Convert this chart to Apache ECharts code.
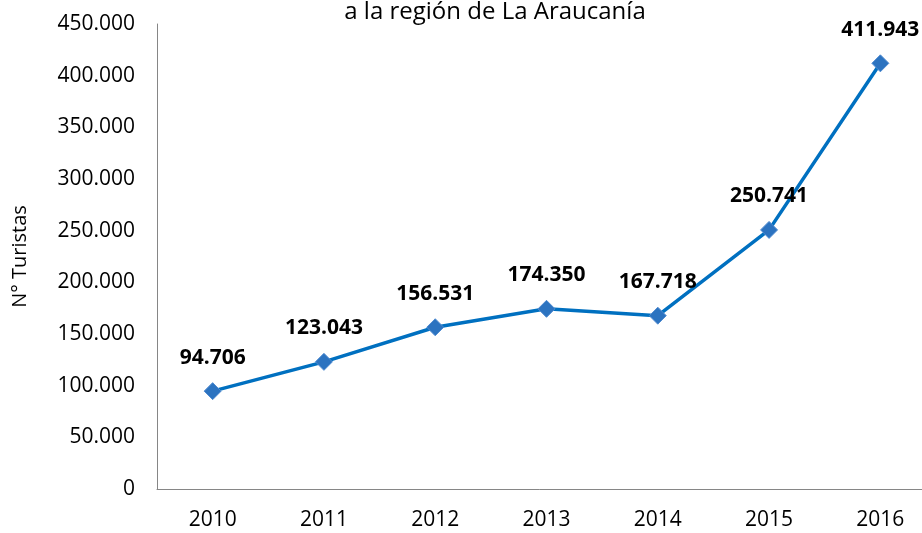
<!DOCTYPE html>
<html>
<head>
	<meta charset="utf-8" />
	<title>Turistas La Araucanía</title>
	<script src="https://cdn.jsdelivr.net/npm/echarts@6/dist/echarts.min.js"></script>
	<style>
		html, body { margin: 0; padding: 0; background: #fff; }
		#main { width: 922px; height: 533px; }
	</style>
</head>
<body>
	<div id="main"></div>
	<script type="text/javascript">
		// datos
		var years = ['2010', '2011', '2012', '2013', '2014', '2015', '2016'];
		var turistas = [94706, 123043, 156531, 174350, 167718, 250741, 411943];
		var titleText = 'a la región de La Araucanía';
		var yName = 'N° Turistas';

		function miles(v) {
			return String(v).replace(/\B(?=(\d{3})+(?!\d))/g, '.');
		}

		var font = '"Open Sans", Lato, sans-serif';
		var myChart = echarts.init(document.getElementById('main'));
		var option = {
			animation: false,
			title: {
				text: titleText,
				left: 490,
				top: -5,
				textAlign: 'center',
				textStyle: { fontFamily: font, fontSize: 24, fontWeight: 'normal', color: '#000' }
			},
			grid: { left: 157, top: 24, width: 779, height: 465, outerBoundsMode: 'none', containLabel: false },
			xAxis: {
				type: 'category',
				data: years,
				boundaryGap: true,
				axisLine: { lineStyle: { color: '#868686', width: 1 } },
				axisTick: { show: false },
				axisLabel: { color: '#000', fontFamily: font, fontSize: 21, margin: 21 }
			},
			yAxis: {
				type: 'value',
				min: 0,
				max: 450000,
				interval: 50000,
				name: yName,
				nameLocation: 'middle',
				nameGap: 127,
				nameTextStyle: { fontFamily: font, fontSize: 20, color: '#000' },
				axisLine: { show: true, lineStyle: { color: '#868686', width: 1 } },
				axisTick: { show: false },
				splitLine: { show: false },
				axisLabel: {
					color: '#000', fontFamily: font, fontSize: 21, margin: 22,
					formatter: function (v) { return v == 0 ? '0' : miles(v / 1000) + '.000'; }
				}
			},
			series: [{
				type: 'line',
				data: turistas,
				symbol: 'diamond',
				symbolSize: 17,
				lineStyle: { color: '#0070C0', width: 3.5 },
				itemStyle: { color: '#2C73C0', borderColor: '#4F8BD0', borderWidth: 1 },
				label: {
					show: true,
					position: 'top',
					distance: 14,
					fontFamily: font,
					fontSize: 21,
					fontWeight: 'bold',
					color: '#000',
					formatter: function (p) { return miles(p.value); }
				}
			}]
		};
		myChart.setOption(option);
	</script>
</body>
</html>
